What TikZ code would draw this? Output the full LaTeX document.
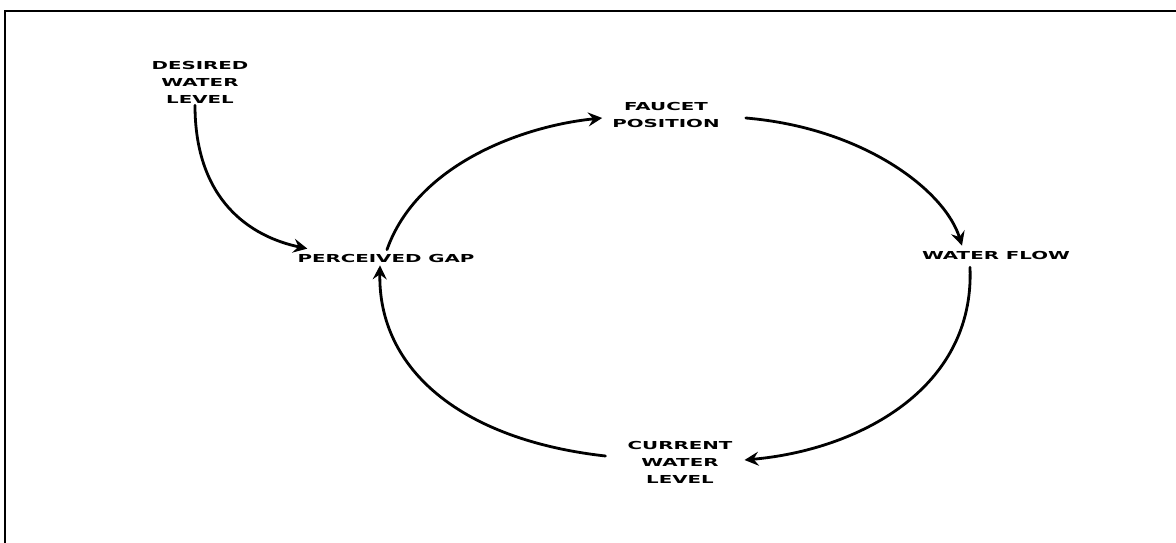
\documentclass[tikz,border=0pt]{standalone}
\usepackage{fontspec}
\newfontfamily\handfont[FakeStretch=1.8]{DejaVu Sans}
\usetikzlibrary{arrows.meta}
\begin{document}
\begin{tikzpicture}[x=1pt,y=-1pt,
  caption/.style={font=\handfont\bfseries\fontsize{11}{17}\selectfont, align=center, inner sep=2pt},
  link/.style={line width=2.8pt, line cap=round,
    -{Stealth[length=14pt,width=14pt,inset=5pt]}}]
\useasboundingbox (0,0) rectangle (1176,543);
% open frame along the top and left edges
\draw[line width=2.4pt] (5,543) -- (5,11) -- (1176,11);

% quantities of the loop
\node[caption] (desired) at (200,82) {DESIRED\\WATER\\LEVEL};
\node[caption] (gap) at (386,258) {PERCEIVED GAP};
\node[caption] (faucet) at (666,115) {FAUCET\\POSITION};
\node[caption] (flow) at (996,255) {WATER FLOW};
\node[caption] (current) at (680,462) {CURRENT\\WATER\\LEVEL};

% causal links
\draw[link] ([shift={(-5,0)}]desired.south) .. controls +(0,95) and +(-57,-12) ..
  ([shift={(12,-3)}]gap.north west);
\draw[link] ([shift={(1,-2)}]gap.north) .. controls +(30,-85) and +(-80,8) ..
  ([shift={(-8,3)}]faucet.west);
\draw[link] ([shift={(24,3)}]faucet.east) .. controls +(118,10) and +(-17,-55) ..
  ([shift={(-34,-3)}]flow.north);
\draw[link] ([shift={(-26,6)}]flow.south) .. controls +(5,122) and +(113,-10) ..
  ([shift={(10,-2)}]current.east);
\draw[link] ([shift={(-20,-6)}]current.west) .. controls +(-143,-16) and +(-2,105) ..
  ([shift={(-6,1)}]gap.south);
\end{tikzpicture}
\end{document}
